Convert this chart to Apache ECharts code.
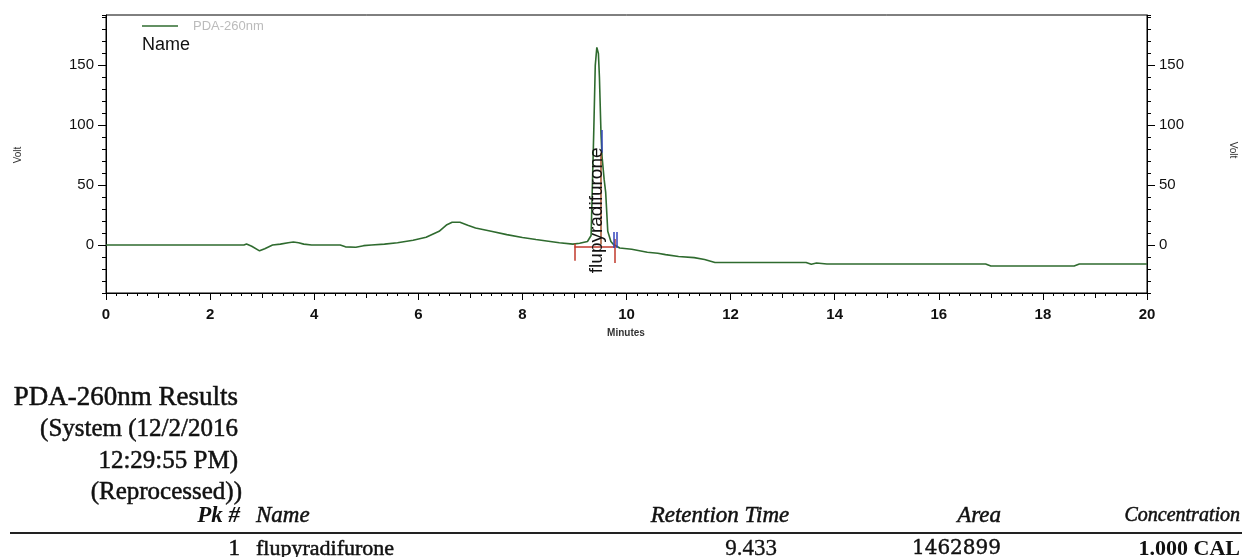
<!DOCTYPE html>
<html>
<head>
<meta charset="utf-8">
<script src="https://cdn.jsdelivr.net/npm/echarts@6/dist/echarts.min.js"></script>
<style>
  html, body { margin: 0; padding: 0; background: #fff; }
  #chart { width: 1242px; height: 557px; }
</style>
</head>
<body>
<div id="chart"></div>
<script>
// chromatogram trace, PDA-260nm (minutes, volts)
var times = [0, 2.65, 2.7, 2.8, 2.95, 3.05, 3.2, 3.35, 3.5, 3.6, 3.7, 3.8, 3.95, 4.5, 4.6, 4.8, 4.95, 5.1,
    5.35, 5.6, 5.9, 6.15, 6.4, 6.55, 6.65, 6.8, 6.95, 7.1, 7.4, 7.7, 8.0, 8.26, 8.5, 8.71, 8.97, 9.1, 9.25,
    9.32, 9.37, 9.4, 9.43, 9.46, 9.48, 9.51, 9.53, 9.57, 9.6, 9.64, 9.7, 9.75, 9.87, 10.1, 10.4, 10.6, 10.75,
    11.0, 11.3, 11.5, 11.7, 13.45, 13.55, 13.65, 13.85, 16.9, 17.0, 18.6, 18.7, 20];
var volts = [0, 0, 0.8, -1, -4.8, -3, 0, 0.8, 2, 2.5, 2, 0.8, 0, 0, -1.5, -1.8, -0.5, 0,
    0.8, 2, 4, 6.5, 11.5, 17, 19, 19, 16.5, 14.2, 11.5, 8.7, 6.3, 4.6, 3.2, 1.9, 0.8, 1.5, 3,
    8, 93, 150, 165, 160, 140, 93, 74, 55, 44, 11.5, 3, 0.5, -2.5, -3.5, -6, -6.8, -8,
    -9.6, -10.5, -12, -14.5, -14.5, -16, -15, -15.8, -15.8, -17.5, -17.5, -15.8, -15.8];

var xLabelValues = [0, 2, 4, 6, 8, 10, 12, 14, 16, 18, 20];
var xMidTicks = [1, 3, 5, 7, 9, 11, 13, 15, 17, 19];
var yLabelValues = [0, 50, 100, 150];

var peakName = 'flupyradifurone';
var peakLabelAt = [9.43, 29];

// integration marks: [x1, y1, x2, y2, colour]
var integrationMarks = [
    [9.0, -1.5, 9.78, -1.5, '#c0392b'],
    [9.0, 1, 9.0, -13, '#c0392b'],
    [9.78, 5, 9.78, -15, '#c0392b'],
    [9.51, 0.5, 9.51, 77, '#a0522d'],
    [9.52, 77, 9.52, 96, '#3344bb'],
    [9.75, 11, 9.75, -2.5, '#3344bb'],
    [9.81, 11, 9.81, -2.5, '#3344bb']
];

var resultTitle = ['PDA-260nm Results', '(System (12/2/2016', '12:29:55 PM)', '(Reprocessed))'];
var tableHeader = ['Pk #', 'Name', 'Retention Time', 'Area', 'Concentration'];
var tableRow = ['1', 'flupyradifurone', '9.433', '1462899', '1.000 CAL'];

(function () {
    var chart = echarts.init(document.getElementById('chart'), null, { renderer: 'canvas' });

    var trace = times.map(function (t, i) { return [t, volts[i]]; });

    var yMin = -40, yMax = 192;
    var axisFont = { fontFamily: 'Liberation Sans', fontSize: 15, color: '#111' };

    function yMinor(pos) {
        return {
            type: 'value', position: pos, min: yMin, max: yMax, interval: 10,
            axisLine: { show: true, onZero: false, lineStyle: { color: '#000', width: 1 } },
            axisTick: { show: true, inside: false, length: 4, lineStyle: { color: '#000' } },
            axisLabel: { show: false },
            splitLine: { show: false }
        };
    }
    function yMajor(pos) {
        return {
            type: 'value', position: pos, min: yMin, max: yMax,
            axisLine: { show: false, onZero: false },
            axisTick: { show: true, length: 8, customValues: yLabelValues, lineStyle: { color: '#000' } },
            axisLabel: Object.assign({ show: true, margin: 12, customValues: yLabelValues }, axisFont),
            splitLine: { show: false }
        };
    }
    function xTicks(values, len) {
        return {
            type: 'value', position: 'bottom', min: 0, max: 20,
            axisLine: { show: false, onZero: false },
            axisTick: { show: true, length: len, customValues: values, lineStyle: { color: '#000' } },
            axisLabel: { show: false },
            splitLine: { show: false }
        };
    }

    var markLines = integrationMarks.map(function (m) {
        return [
            { coord: [m[0], m[1]], lineStyle: { color: m[4], width: 1.5, type: 'solid' } },
            { coord: [m[2], m[3]] }
        ];
    });

    // results table text, slightly heavier than plain regular like the scan
    function txt(x, y, s, align, style) {
        return {
            type: 'text', x: x, y: y,
            style: Object.assign({
                text: s, align: align, verticalAlign: 'middle',
                fontFamily: 'Liberation Serif', fontSize: 22, fill: '#111',
                stroke: '#111', lineWidth: 0.5
            }, style || {})
        };
    }
    var titleStyle = { fontSize: 25 };

    var option = {
        backgroundColor: '#fff',
        animation: false,
        grid: {
            left: 106, right: 95, top: 15, bottom: 264,
            show: true, borderColor: '#000', borderWidth: 1, backgroundColor: 'transparent'
        },
        xAxis: [
            {
                type: 'value', position: 'bottom', min: 0, max: 20, interval: 0.2,
                axisLine: { show: true, onZero: false, lineStyle: { color: '#000', width: 1 } },
                axisTick: { show: true, length: 3, lineStyle: { color: '#000' } },
                axisLabel: Object.assign({ show: true, margin: 14, customValues: xLabelValues, fontWeight: 'bold' }, axisFont),
                splitLine: { show: false }
            },
            xTicks(xMidTicks, 5),
            xTicks(xLabelValues, 7)
        ],
        yAxis: [yMinor('left'), yMajor('left'), yMinor('right'), yMajor('right')],
        series: [
            {
                name: 'PDA-260nm',
                type: 'line',
                xAxisIndex: 0,
                yAxisIndex: 0,
                data: trace,
                showSymbol: false,
                symbol: 'none',
                lineStyle: { color: '#2f6b2f', width: 1.6 },
                markLine: {
                    silent: true, symbol: 'none',
                    label: { show: false },
                    data: markLines
                },
                markPoint: {
                    silent: true,
                    symbol: 'circle', symbolSize: 1,
                    itemStyle: { color: 'transparent' },
                    label: {
                        show: true, position: 'inside', rotate: 90,
                        fontFamily: 'Liberation Sans', fontSize: 19, color: '#111',
                        formatter: peakName
                    },
                    data: [{ coord: peakLabelAt }]
                }
            }
        ],
        graphic: [
            // legend
            { type: 'line', shape: { x1: 142, y1: 26, x2: 178, y2: 26 }, style: { stroke: '#2f6b2f', lineWidth: 1.5 } },
            { type: 'text', x: 193, y: 26, style: { text: 'PDA-260nm', fontFamily: 'Liberation Sans', fontSize: 13, fill: '#bbb', verticalAlign: 'middle' } },
            { type: 'text', x: 142, y: 45, style: { text: 'Name', fontFamily: 'Liberation Sans', fontSize: 18, fill: '#111', verticalAlign: 'middle' } },
            // axis names
            { type: 'text', x: 18, y: 155, rotation: Math.PI / 2, style: { text: 'Volt', fontFamily: 'Liberation Sans', fontSize: 10, fill: '#333', align: 'center', verticalAlign: 'middle' } },
            { type: 'text', x: 1233, y: 150, rotation: -Math.PI / 2, style: { text: 'Volt', fontFamily: 'Liberation Sans', fontSize: 10, fill: '#333', align: 'center', verticalAlign: 'middle' } },
            { type: 'text', x: 626, y: 333, style: { text: 'Minutes', fontFamily: 'Liberation Sans', fontSize: 10, fontWeight: 'bold', fill: '#333', align: 'center', verticalAlign: 'middle' } },
            // results block
            txt(238, 398, resultTitle[0], 'right', { fontSize: 27 }),
            txt(238, 429, resultTitle[1], 'right', titleStyle),
            txt(238, 461, resultTitle[2], 'right', titleStyle),
            txt(242, 492, resultTitle[3], 'right', titleStyle),
            txt(240, 516, tableHeader[0], 'right', { fontStyle: 'italic', fontWeight: 'bold', fontSize: 23, lineWidth: 0 }),
            txt(256, 516, tableHeader[1], 'left', { fontStyle: 'italic', fontSize: 23 }),
            txt(720, 516, tableHeader[2], 'center', { fontStyle: 'italic', fontSize: 23 }),
            txt(1001, 516, tableHeader[3], 'right', { fontStyle: 'italic', fontSize: 23 }),
            txt(1240, 516, tableHeader[4], 'right', { fontStyle: 'italic', fontSize: 20 }),
            { type: 'line', shape: { x1: 10, y1: 533, x2: 1242, y2: 533 }, style: { stroke: '#222', lineWidth: 2 } },
            txt(240, 549, tableRow[0], 'right', { fontSize: 23 }),
            txt(256, 549, tableRow[1], 'left', { fontSize: 22 }),
            txt(751, 549, tableRow[2], 'center', { fontSize: 23, lineWidth: 0.3 }),
            txt(1001, 549, tableRow[3], 'right', { fontFamily: 'DejaVu Serif', fontSize: 20, lineWidth: 0.4 }),
            txt(1240, 549, tableRow[4], 'right', { fontWeight: 'bold', lineWidth: 0 })
        ]
    };

    option && chart.setOption(option);
})();
</script>
</body>
</html>
